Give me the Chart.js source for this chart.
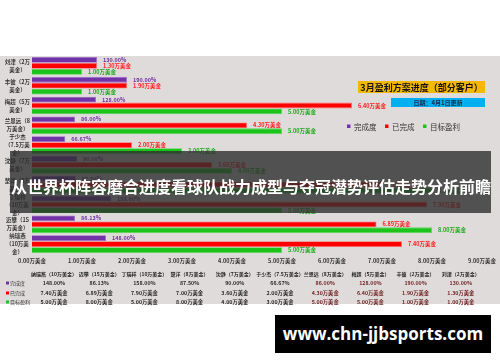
<!DOCTYPE html>
<html><head><meta charset="utf-8">
<script src="https://cdn.jsdelivr.net/npm/chart.js@4"></script>
<style>
html,body{margin:0;padding:0;background:#fff;}
#wrap{position:relative;width:500px;height:362px;overflow:hidden;}
canvas{position:absolute;left:0;top:0;}
#band{position:absolute;left:10px;top:151px;width:481px;height:62px;background:rgba(46,46,46,0.8);}
#title{position:absolute;left:11px;top:175px;font:bold 16px "Noto Sans CJK SC";color:#fff;white-space:nowrap;line-height:22px;}
#site{position:absolute;left:275px;top:315px;width:216px;height:38px;background:#000;color:#fff;font:bold 17px "Open Sans";text-align:center;line-height:38px;}
</style></head>
<body><div id="wrap"><canvas id="c" width="500" height="362"></canvas><div id="band"></div><div id="title">从世界杯阵容磨合进度看球队战力成型与夺冠潜势评估走势分析前瞻</div><div id="site">www.chn-jjbsports.com</div></div>
<script>
// chart order, top to bottom
const names = ['刘津','丰彼','梅超','兰恩远','于少杰','沈静','楚洋','丁瑞祥','迈攀','纳瑞燕'];
const quotas = ['2','2','5','8','7.5','7','8','10','15','10'];
const categoryLabels = [
  ['刘津（2万','美金）'],
  ['丰彼（2万','美金）'],
  ['梅超（5万','美金）'],
  ['兰恩远（8','万美金）'],
  ['于少杰','（7.5万美','金）'],
  ['沈静（7万','美金）'],
  ['楚洋（8万','美金）'],
  ['丁瑞祥','（10万美','金）'],
  ['迈攀（15','万美金）'],
  ['纳瑞燕','（10万美','金）']
];
const completionPct = [130.00,190.00,128.00,86.00,66.67,90.00,87.50,158.00,86.13,148.00];
const doneValues   = [1.30,1.90,6.40,4.30,2.00,3.60,7.00,7.90,6.89,7.40];
const targetValues = [1.00,1.00,5.00,5.00,3.00,4.00,8.00,5.00,8.00,5.00];
const seriesNames = ['完成度','已完成','目标盈利'];
const seriesColors = ['#7232a8','#ff0000','#1ac41a'];
const labelColors = ['#7030a0','#ff1a1a','#1aa81a'];
const xMin = 0, xMax = 9, xStep = 1;
const chartTitle = '3月盈利方案进度（部分客户）';
const dateNote = '日期：4月1日更新';

const FONT = '"Noto Sans CJK SC","Noto Sans",sans-serif';

const bgPlugin = {
  id:'bg',
  beforeDraw(chart){
    const ctx = chart.ctx;
    ctx.save();
    ctx.fillStyle = '#e0dbdb';
    ctx.fillRect(0,56,500,248);
    ctx.restore();
  }
};

const labelPlugin = {
  id:'vlabels',
  afterDatasetsDraw(chart){
    const ctx = chart.ctx;
    ctx.save();
    ctx.font = 'bold 5.5px ' + FONT;
    ctx.textBaseline = 'middle';
    ctx.textAlign = 'left';
    chart.data.datasets.forEach((ds, di) => {
      const meta = chart.getDatasetMeta(di);
      meta.data.forEach((bar, i) => {
        const txt = di === 0 ? completionPct[i].toFixed(2) + '%' : ds.data[i].toFixed(2) + '万美金';
        ctx.fillStyle = labelColors[di];
        ctx.fillText(txt, bar.x + 6, bar.y);
      });
    });
    ctx.restore();
  }
};

const extrasPlugin = {
  id:'extras',
  afterDraw(chart){
    const ctx = chart.ctx;
    ctx.save();
    // title box
    ctx.fillStyle = '#f5b800';
    ctx.fillRect(358,81,127,12);
    ctx.fillStyle = '#111';
    ctx.font = 'bold 9px ' + FONT;
    ctx.textAlign = 'center';
    ctx.textBaseline = 'middle';
    ctx.fillText(chartTitle, 421.5, 87.5);
    // date box
    ctx.fillStyle = '#00b0f0';
    ctx.fillRect(391,98,94,9);
    ctx.fillStyle = '#1a2a3a';
    ctx.font = 'bold 6px ' + FONT;
    ctx.fillText(dateNote, 438, 102.5);
    // legend
    const lx = [347, 385, 423];
    ctx.font = '7.5px ' + FONT;
    ctx.textAlign = 'left';
    seriesNames.forEach((n, k) => {
      ctx.fillStyle = seriesColors[k];
      ctx.fillRect(lx[k], 124.5, 3.5, 3.5);
      ctx.fillStyle = '#333';
      ctx.fillText(n, lx[k] + 7, 127);
    });
    // data table (reverse order: left to right)
    const cols = names.map((n, i) => i).reverse();
    ctx.textAlign = 'center';
    ctx.font = 'bold 5px ' + FONT;
    cols.forEach((ci, j) => {
      const cx = 54 + j * 45.2;
      ctx.fillStyle = '#222';
      ctx.fillText(names[ci] + '（' + quotas[ci] + '万美金）', cx, 274);
    });
    const rowsY = [283, 293, 302];
    ctx.font = 'bold 5.3px ' + FONT;
    cols.forEach((ci, j) => {
      const cx = 54 + j * 45.2;
      ctx.fillStyle = j >= 6 ? '#6e1f1f' : '#2a2a2a';
      ctx.fillText(completionPct[ci].toFixed(2) + '%', cx, rowsY[0]);
      ctx.fillText(doneValues[ci].toFixed(2) + '万美金', cx, rowsY[1]);
      ctx.fillText(targetValues[ci].toFixed(2) + '万美金', cx, rowsY[2]);
    });
    ctx.textAlign = 'left';
    ctx.font = '5px ' + FONT;
    seriesNames.forEach((n, k) => {
      ctx.fillStyle = seriesColors[k];
      ctx.fillRect(6, rowsY[k] - 1.5, 3, 3);
      ctx.fillStyle = '#333';
      ctx.fillText(n, 10, rowsY[k]);
    });
    ctx.restore();
  }
};

new Chart(document.getElementById('c'), {
  type:'bar',
  data:{
    labels: categoryLabels,
    datasets:[
      {label:seriesNames[0], data:completionPct.map(v => v/100), backgroundColor:seriesColors[0], borderColor:'#9a6ccc', borderWidth:0.8},
      {label:seriesNames[1], data:doneValues, backgroundColor:seriesColors[1], borderColor:'#ff6a6a', borderWidth:0.8},
      {label:seriesNames[2], data:targetValues, backgroundColor:seriesColors[2], borderColor:'#5ad85a', borderWidth:0.8}
    ]
  },
  options:{
    indexAxis:'y',
    responsive:false,
    animation:false,
    devicePixelRatio:1,
    layout:{padding:{top:56,bottom:94,left:0,right:15}},
    plugins:{legend:{display:false},tooltip:{enabled:false}},
    datasets:{bar:{categoryPercentage:0.9,barPercentage:0.98}},
    scales:{
      x:{
        min:xMin,max:xMax,
        grid:{display:false,drawTicks:false},
        border:{display:false},
        ticks:{stepSize:xStep,color:'#333',font:{family:FONT,size:5.5,weight:'bold'},padding:4,maxRotation:0,autoSkip:false,
          callback:v => Number(v).toFixed(2) + '万美金'},
        afterFit(s){ s.height = 14; }
      },
      y:{
        grid:{display:false,drawTicks:false},
        border:{display:false},
        ticks:{color:'#333',font:{family:FONT,size:5.5,weight:'bold',lineHeight:1.45},padding:2,crossAlign:'center',autoSkip:false},
        afterFit(s){ s.width = 32; }
      }
    }
  },
  plugins:[bgPlugin,labelPlugin,extrasPlugin]
});
</script>
</body></html>
